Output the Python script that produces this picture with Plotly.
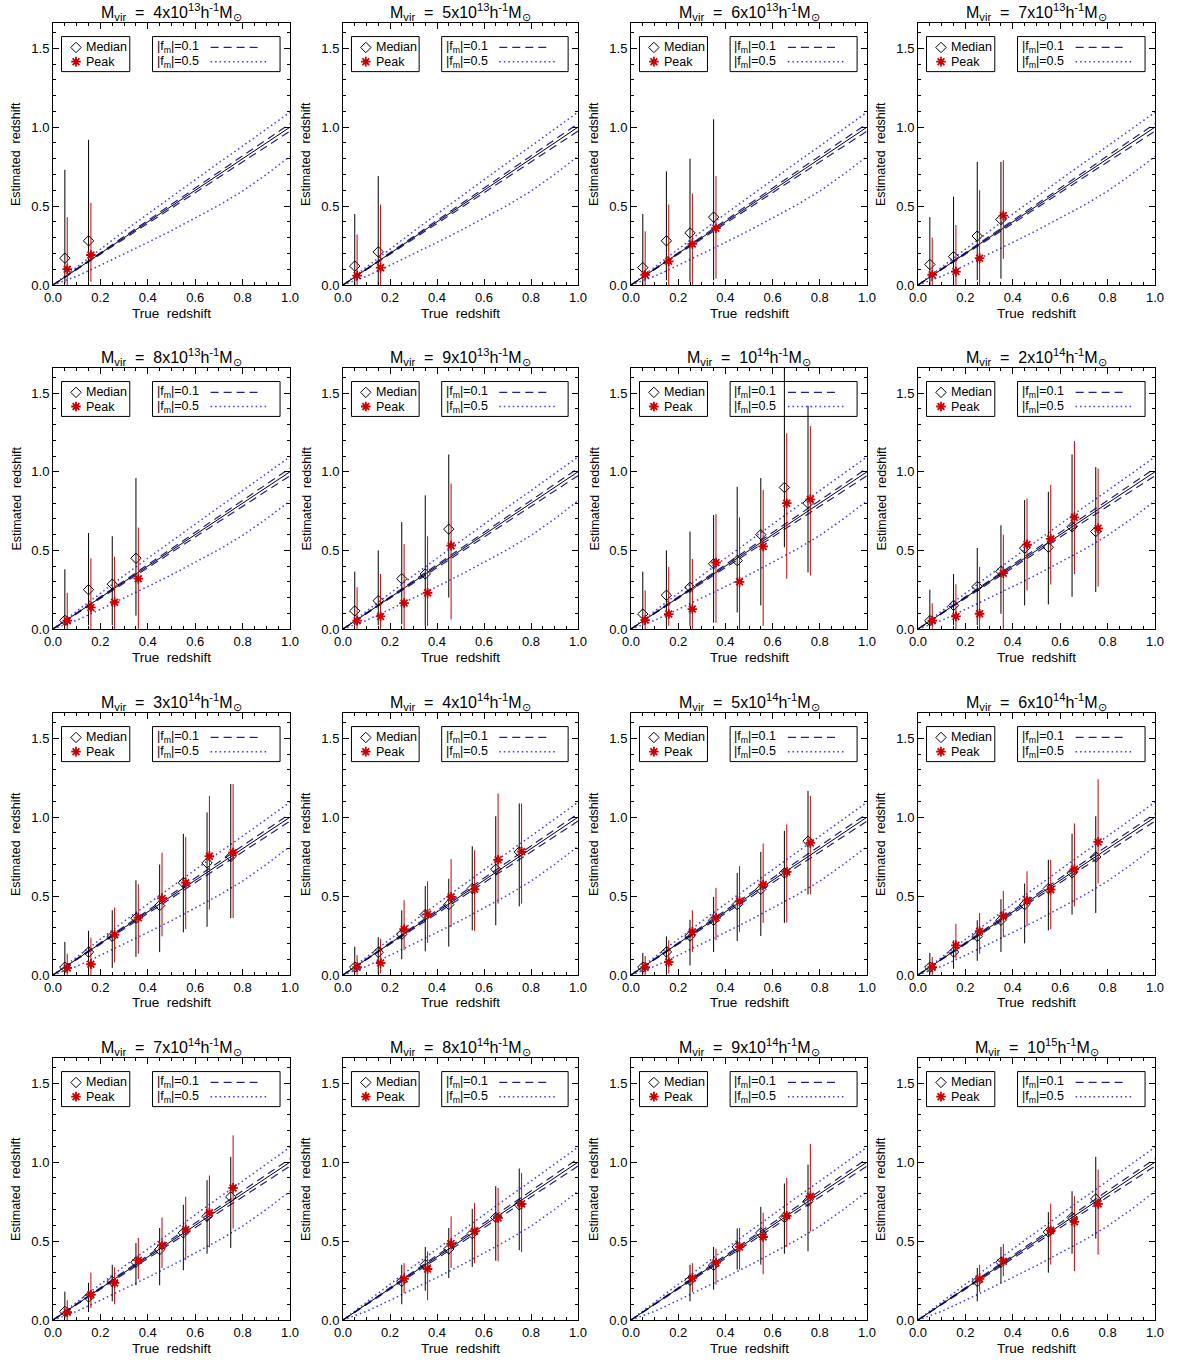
import plotly.graph_objects as go

# ---------------- data ----------------
MASS_LABELS = ["4x10<sup>13</sup>", "5x10<sup>13</sup>", "6x10<sup>13</sup>", "7x10<sup>13</sup>",
               "8x10<sup>13</sup>", "9x10<sup>13</sup>", "10<sup>14</sup>", "2x10<sup>14</sup>",
               "3x10<sup>14</sup>", "4x10<sup>14</sup>", "5x10<sup>14</sup>", "6x10<sup>14</sup>",
               "7x10<sup>14</sup>", "8x10<sup>14</sup>", "9x10<sup>14</sup>", "10<sup>15</sup>"]

Z8 = [0.05, 0.15, 0.25, 0.35, 0.45, 0.55, 0.65, 0.75]
ZT = [Z8[:2], Z8[:2], Z8[:4], Z8[:4], Z8[:4], Z8[:5], Z8, Z8,
      Z8, Z8, Z8, Z8, Z8, Z8[2:], Z8[2:], [0.25, 0.35, 0.55, 0.65, 0.75]]

MED = [[0.17, 0.28], [0.12, 0.21], [0.11, 0.28, 0.33, 0.43], [0.13, 0.18, 0.31, 0.415],
       [0.055, 0.25, 0.285, 0.45], [0.115, 0.18, 0.32, 0.35, 0.635],
       [0.095, 0.215, 0.265, 0.415, 0.435, 0.60, 0.90, 0.80],
       [0.053, 0.15, 0.27, 0.366, 0.514, 0.52, 0.65, 0.62],
       [0.05, 0.145, 0.245, 0.36, 0.44, 0.585, 0.71, 0.75],
       [0.05, 0.144, 0.258, 0.383, 0.446, 0.548, 0.67, 0.78],
       [0.05, 0.146, 0.247, 0.347, 0.446, 0.543, 0.647, 0.848],
       [0.05, 0.146, 0.245, 0.347, 0.446, 0.548, 0.647, 0.748],
       [0.055, 0.146, 0.245, 0.366, 0.446, 0.552, 0.657, 0.78],
       [0.245, 0.35, 0.45, 0.548, 0.65, 0.73],
       [0.252, 0.347, 0.463, 0.552, 0.65, 0.752],
       [0.245, 0.366, 0.558, 0.65, 0.767]]
MED_LO = [[0.01, 0.02], [0.0, 0.0], [0.0, 0.03, 0.02, 0.03], [0.0, 0.0, 0.03, 0.04],
          [0.02, 0.025, 0.025, 0.085], [0.02, 0.025, 0.03, 0.02, 0.2],
          [0.02, 0.02, 0.02, 0.04, 0.105, 0.15, 0.52, 0.36],
          [0.02, 0.025, 0.025, 0.097, 0.15, 0.156, 0.205, 0.235],
          [0.01, 0.01, 0.045, 0.115, 0.145, 0.27, 0.305, 0.36],
          [0.01, 0.01, 0.1, 0.15, 0.18, 0.283, 0.315, 0.435],
          [0.005, 0.01, 0.06, 0.146, 0.216, 0.247, 0.33, 0.51],
          [0.005, 0.04, 0.09, 0.146, 0.2, 0.283, 0.383, 0.393],
          [0.01, 0.05, 0.118, 0.22, 0.22, 0.315, 0.42, 0.457],
          [0.1, 0.186, 0.266, 0.336, 0.376, 0.442],
          [0.118, 0.192, 0.32, 0.351, 0.42, 0.435],
          [0.118, 0.235, 0.3, 0.42, 0.516]]
MED_HI = [[0.73, 0.92], [0.45, 0.69], [0.45, 0.72, 0.80, 1.05], [0.43, 0.56, 0.78, 0.78],
          [0.38, 0.61, 0.59, 0.96], [0.365, 0.50, 0.68, 0.85, 1.11],
          [0.365, 0.50, 0.62, 0.725, 0.905, 0.96, 1.80, 1.42],
          [0.25, 0.35, 0.515, 0.66, 0.82, 0.873, 1.11, 1.03],
          [0.21, 0.28, 0.41, 0.60, 0.70, 0.895, 1.03, 1.21],
          [0.18, 0.24, 0.41, 0.563, 0.61, 0.816, 1.006, 1.087],
          [0.14, 0.245, 0.35, 0.495, 0.647, 0.78, 0.913, 1.167],
          [0.14, 0.22, 0.347, 0.48, 0.58, 0.73, 0.896, 1.006],
          [0.18, 0.235, 0.35, 0.488, 0.583, 0.73, 0.886, 1.034],
          [0.35, 0.463, 0.583, 0.704, 0.848, 0.96],
          [0.35, 0.463, 0.58, 0.717, 0.865, 0.985],
          [0.33, 0.463, 0.683, 0.816, 1.034]]
PEAK = [[0.10, 0.19], [0.06, 0.11], [0.065, 0.15, 0.26, 0.36], [0.065, 0.085, 0.17, 0.44],
        [0.053, 0.137, 0.17, 0.32], [0.053, 0.08, 0.165, 0.23, 0.53],
        [0.057, 0.095, 0.127, 0.423, 0.30, 0.525, 0.80, 0.825],
        [0.053, 0.08, 0.097, 0.355, 0.537, 0.573, 0.71, 0.64],
        [0.045, 0.068, 0.255, 0.363, 0.485, 0.585, 0.753, 0.776],
        [0.05, 0.076, 0.29, 0.385, 0.495, 0.543, 0.73, 0.782],
        [0.05, 0.082, 0.273, 0.362, 0.467, 0.573, 0.653, 0.837],
        [0.05, 0.188, 0.277, 0.374, 0.473, 0.541, 0.67, 0.843],
        [0.049, 0.16, 0.235, 0.378, 0.474, 0.573, 0.68, 0.837],
        [0.26, 0.323, 0.484, 0.562, 0.647, 0.736],
        [0.266, 0.362, 0.463, 0.526, 0.66, 0.784],
        [0.26, 0.372, 0.568, 0.622, 0.736]]
PEAK_LO = [[0.0, 0.02], [0.0, 0.0], [0.0, 0.0, 0.0, 0.04], [0.0, 0.0, 0.0, 0.165],
           [0.0, 0.0, 0.0, 0.0], [0.0, 0.0, 0.0, 0.02, 0.06],
           [0.0, 0.02, 0.0, 0.04, 0.0, 0.02, 0.32, 0.34],
           [0.0, 0.0, 0.0, 0.0, 0.245, 0.283, 0.35, 0.27],
           [0.0, 0.0, 0.08, 0.135, 0.245, 0.29, 0.415, 0.36],
           [0.0, 0.01, 0.157, 0.203, 0.305, 0.28, 0.452, 0.452],
           [0.0, 0.01, 0.146, 0.22, 0.273, 0.33, 0.332, 0.512],
           [0.0, 0.104, 0.135, 0.24, 0.309, 0.29, 0.435, 0.58],
           [0.0, 0.076, 0.1, 0.26, 0.33, 0.378, 0.46, 0.58],
           [0.17, 0.125, 0.33, 0.36, 0.372, 0.43],
           [0.178, 0.224, 0.32, 0.29, 0.463, 0.562],
           [0.178, 0.277, 0.351, 0.31, 0.414]]
PEAK_HI = [[0.43, 0.52], [0.32, 0.51], [0.34, 0.51, 0.58, 0.69], [0.30, 0.38, 0.60, 0.79],
           [0.23, 0.45, 0.46, 0.645], [0.265, 0.35, 0.54, 0.59, 0.925],
           [0.245, 0.395, 0.445, 0.73, 0.71, 0.885, 1.245, 1.29],
           [0.163, 0.285, 0.395, 0.60, 0.83, 0.917, 1.195, 1.02],
           [0.135, 0.237, 0.427, 0.575, 0.775, 0.875, 1.135, 1.21],
           [0.125, 0.23, 0.474, 0.594, 0.734, 0.79, 1.15, 1.087],
           [0.12, 0.22, 0.41, 0.552, 0.69, 0.833, 0.955, 1.135],
           [0.114, 0.325, 0.393, 0.533, 0.657, 0.73, 0.96, 1.24],
           [0.125, 0.30, 0.334, 0.52, 0.65, 0.78, 0.915, 1.17],
           [0.36, 0.435, 0.657, 0.742, 0.837, 0.932],
           [0.36, 0.452, 0.583, 0.68, 0.90, 1.116],
           [0.35, 0.482, 0.738, 0.784, 0.953]]

# model curves (true redshift grid and estimated redshift for |f_m| bias)
ZGRID = [0.0, 0.1, 0.2, 0.3, 0.4, 0.5, 0.6, 0.7, 0.8, 0.9, 1.0]
F01_HI = [0.0, 0.103, 0.205, 0.307, 0.41, 0.512, 0.614, 0.716, 0.818, 0.92, 1.022]
F01_LO = [0.0, 0.097, 0.195, 0.292, 0.39, 0.487, 0.585, 0.682, 0.78, 0.877, 0.975]
F05_HI = [0.0, 0.115, 0.23, 0.34, 0.45, 0.56, 0.67, 0.775, 0.88, 0.99, 1.095]
F05_LO = [0.0, 0.055, 0.125, 0.195, 0.27, 0.345, 0.425, 0.505, 0.595, 0.70, 0.815]

# ---------------- layout geometry ----------------
W, H = 1184, 1362
COL_L = [53, 343, 631, 918]
COL_R = [290, 578, 867, 1155]
ROW_T = [23, 368, 713, 1058]
ROW_B = [285, 629, 975, 1320]
YMAX = 1.66

RED = "#cc0000"
NAVY = "#1e1e9a"
BLUE = "#3a3aff"
FONT = "Liberation Sans"

fig = go.Figure()
shapes = []
annotations = []
layout = {}

for i in range(16):
    r, c = divmod(i, 4)
    sfx = "" if i == 0 else str(i + 1)
    xa, ya = "x" + sfx, "y" + sfx
    axis_common = dict(showline=True, linecolor="black", linewidth=1, mirror="allticks",
                       ticks="inside", ticklen=6, tickcolor="black", showgrid=False,
                       zeroline=False, tickfont=dict(family=FONT, size=13, color="black"),
                       tickformat=".1f", fixedrange=True, automargin=False)
    layout["xaxis" + sfx] = dict(axis_common, domain=[COL_L[c] / W, COL_R[c] / W],
                                 range=[0, 1], dtick=0.2, tick0=0, anchor=ya,
                                 minor=dict(dtick=0.05, ticklen=3, ticks="inside", tickcolor="black"))
    layout["yaxis" + sfx] = dict(axis_common, domain=[1 - ROW_B[r] / H, 1 - ROW_T[r] / H],
                                 range=[0, YMAX], dtick=0.5, tick0=0, anchor=xa,
                                 minor=dict(dtick=0.1, ticklen=3, ticks="inside", tickcolor="black"))

    # model lines
    fig.add_trace(go.Scatter(x=ZGRID, y=F05_HI, mode="lines", xaxis=xa, yaxis=ya,
                             line=dict(color=BLUE, width=1.5, dash="1.5px,3px"), showlegend=False))
    fig.add_trace(go.Scatter(x=ZGRID, y=F05_LO, mode="lines", xaxis=xa, yaxis=ya,
                             line=dict(color=BLUE, width=1.5, dash="1.5px,3px"), showlegend=False))
    fig.add_trace(go.Scatter(x=ZGRID, y=F01_HI, mode="lines", xaxis=xa, yaxis=ya,
                             line=dict(color=NAVY, width=1.2, dash="8px,5px"), showlegend=False))
    fig.add_trace(go.Scatter(x=ZGRID, y=F01_LO, mode="lines", xaxis=xa, yaxis=ya,
                             line=dict(color=NAVY, width=1.2, dash="8px,5px"), showlegend=False))
    fig.add_trace(go.Scatter(x=ZGRID, y=ZGRID, mode="lines", xaxis=xa, yaxis=ya,
                             line=dict(color="black", width=1), showlegend=False))

    zt = ZT[i]
    med, mlo, mhi = MED[i], MED_LO[i], MED_HI[i]
    pk, plo, phi = PEAK[i], PEAK_LO[i], PEAK_HI[i]
    fig.add_trace(go.Scatter(
        x=zt, y=med, mode="markers", xaxis=xa, yaxis=ya, showlegend=False,
        marker=dict(symbol="diamond-open", size=8, color="black", line=dict(width=1, color="black")),
        error_y=dict(type="data", symmetric=False,
                     array=[h - m for h, m in zip(mhi, med)],
                     arrayminus=[m - l for m, l in zip(med, mlo)],
                     color="black", thickness=1, width=0)))
    fig.add_trace(go.Scatter(
        x=[z + 0.01 for z in zt], y=pk, mode="markers", xaxis=xa, yaxis=ya, showlegend=False,
        marker=dict(symbol="asterisk-open", size=8, color=RED, line=dict(width=1.8, color=RED)),
        error_y=dict(type="data", symmetric=False,
                     array=[h - m for h, m in zip(phi, pk)],
                     arrayminus=[m - l for m, l in zip(pk, plo)],
                     color=RED, thickness=1, width=0)))

    # legend boxes
    shapes.append(dict(type="rect", xref=xa, yref=ya, x0=0.036, x1=0.324, y0=1.352, y1=1.574,
                       line=dict(color="black", width=1)))
    shapes.append(dict(type="rect", xref=xa, yref=ya, x0=0.42, x1=0.958, y0=1.352, y1=1.574,
                       line=dict(color="black", width=1)))
    shapes.append(dict(type="line", xref=xa, yref=ya, x0=0.665, x1=0.88, y0=1.505, y1=1.505,
                       line=dict(color=NAVY, width=1.2, dash="8px,5px")))
    shapes.append(dict(type="line", xref=xa, yref=ya, x0=0.665, x1=0.905, y0=1.415, y1=1.415,
                       line=dict(color=BLUE, width=1.5, dash="1.5px,3px")))
    fig.add_trace(go.Scatter(x=[0.097], y=[1.505], mode="markers", xaxis=xa, yaxis=ya,
                             showlegend=False, hoverinfo="skip",
                             marker=dict(symbol="diamond-open", size=8, color="black",
                                         line=dict(width=1, color="black"))))
    fig.add_trace(go.Scatter(x=[0.097], y=[1.415], mode="markers", xaxis=xa, yaxis=ya,
                             showlegend=False, hoverinfo="skip",
                             marker=dict(symbol="asterisk-open", size=8, color=RED,
                                         line=dict(width=1.8, color=RED))))
    lf = dict(family=FONT, size=12.5, color="black")
    annotations += [
        dict(xref=xa, yref=ya, x=0.13, y=1.505, text="Median", showarrow=False,
             xanchor="left", yanchor="middle", font=lf),
        dict(xref=xa, yref=ya, x=0.13, y=1.415, text="Peak", showarrow=False,
             xanchor="left", yanchor="middle", font=lf),
        dict(xref=xa, yref=ya, x=0.43, y=1.505, text="|f<sub>m</sub>|=0.1", showarrow=False,
             xanchor="left", yanchor="middle", font=lf),
        dict(xref=xa, yref=ya, x=0.43, y=1.415, text="|f<sub>m</sub>|=0.5", showarrow=False,
             xanchor="left", yanchor="middle", font=lf),
    ]

    # panel title and axis titles
    xc = (COL_L[c] + COL_R[c]) / 2
    annotations.append(dict(xref="paper", yref="paper", x=xc / W, y=1 - (ROW_T[r] - 11) / H,
                            text="M<sub>vir</sub>\u00a0\u00a0=\u00a0\u00a0" + MASS_LABELS[i]
                                 + "h<sup>-1</sup>M<sub>\u2299</sub>",
                            showarrow=False, xanchor="center", yanchor="middle",
                            font=dict(family=FONT, size=16, color="black")))
    annotations.append(dict(xref="paper", yref="paper", x=xc / W, y=1 - (ROW_B[r] + 28) / H,
                            text="True\u00a0\u00a0redshift", showarrow=False,
                            xanchor="center", yanchor="middle",
                            font=dict(family=FONT, size=13.5, color="black")))
    annotations.append(dict(xref="paper", yref="paper", x=(COL_L[c] - 37) / W,
                            y=1 - (ROW_T[r] + ROW_B[r]) / 2 / H,
                            text="Estimated\u00a0\u00a0redshift", showarrow=False, textangle=-90,
                            xanchor="center", yanchor="middle",
                            font=dict(family=FONT, size=12.5, color="black")))

fig.update_layout(width=W, height=H, margin=dict(l=0, r=0, t=0, b=0, autoexpand=False),
                  paper_bgcolor="white", plot_bgcolor="white", showlegend=False,
                  shapes=shapes, annotations=annotations, **layout)
fig.write_html("out.html", config={"displayModeBar": False},
               post_script="document.body.style.margin='0';document.body.style.padding='0';")
